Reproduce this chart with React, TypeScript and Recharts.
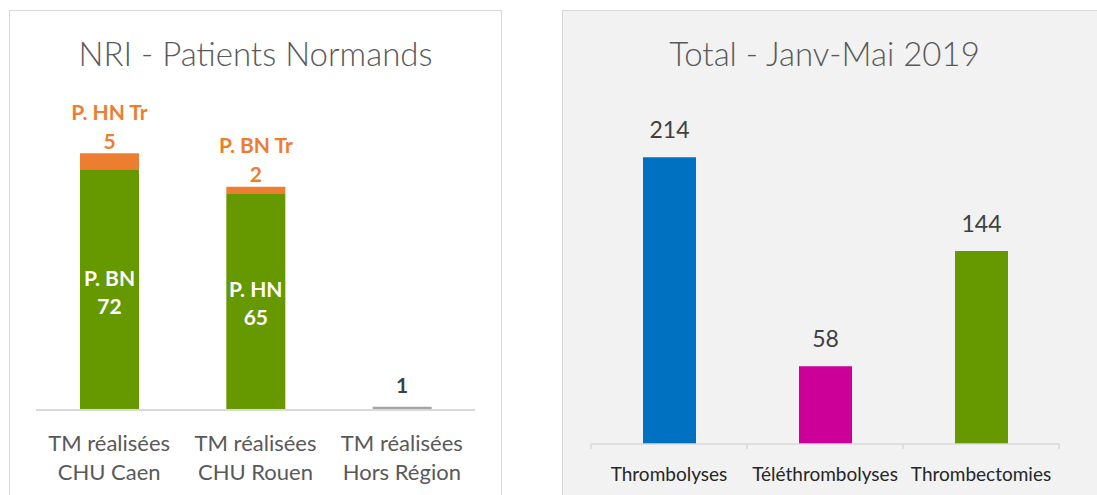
import React from "react";
import { BarChart, Bar, XAxis, YAxis, Cell, LabelList } from "recharts";

// left chart: NRI - Patients Normands
const nriCategories = ["TM réalisées\nCHU Caen", "TM réalisées\nCHU Rouen", "TM réalisées\nHors Région"];
const nriMain = [72, 65, 1];
const nriMainNames = ["P. BN", "P. HN", ""];
const nriMainColors = ["#669900", "#669900", "#A5A5A5"];
const nriTransfer = [5, 2, 0];
const nriTransferNames = ["P. HN Tr", "P. BN Tr", ""];

// right chart: Total - Janv-Mai 2019
const totalCategories = ["Thrombolyses", "Téléthrombolyses", "Thrombectomies"];
const totalValues = [214, 58, 144];
const totalColors = ["#0070C0", "#CC0099", "#669900"];

const FONT = "Lato, 'Open Sans', sans-serif";

const nriData = nriCategories.map((c, i) => ({
  name: c,
  main: nriMain[i],
  transfer: nriTransfer[i],
}));

const totalData = totalCategories.map((c, i) => ({
  name: c,
  value: totalValues[i],
}));

function NriTick(props: any) {
  const { x, y, payload } = props;
  const lines = String(payload.value).split("\n");
  return (
    <g>
      {lines.map((l, i) => (
        <text
          key={i}
          x={x}
          y={y + 32 + i * 29}
          textAnchor="middle"
          dominantBaseline="central"
          fontFamily={FONT}
          fontSize={22}
          fill="#595959"
        >
          {l}
        </text>
      ))}
    </g>
  );
}

const TOTAL_BAND = 156;

function TotalTick(props: any) {
  const { x, y, payload, index } = props;
  const left = x - TOTAL_BAND / 2;
  return (
    <g>
      <line x1={left} y1={y} x2={left} y2={y + 5} stroke="#D9D9D9" strokeWidth={1.5} />
      {index === totalCategories.length - 1 && (
        <line x1={left + TOTAL_BAND} y1={y} x2={left + TOTAL_BAND} y2={y + 5} stroke="#D9D9D9" strokeWidth={1.5} />
      )}
      <text
        x={x}
        y={y + 29}
        textAnchor="middle"
        dominantBaseline="central"
        fontFamily={FONT}
        fontSize={19}
        fill="#262626"
      >
        {payload.value}
      </text>
    </g>
  );
}

function MainLabel(props: any) {
  const { x, y, width, height, index, value } = props;
  const cx = x + width / 2;
  if (!nriMainNames[index]) {
    return (
      <text x={cx} y={y - 22} textAnchor="middle" dominantBaseline="central"
        fontFamily={FONT} fontWeight={700} fontSize={21} fill="#404040">
        {value}
      </text>
    );
  }
  const cy = y + height / 2;
  return (
    <g fontFamily={FONT} fontWeight={700} fontSize={21} fill="#FFFFFF" textAnchor="middle">
      <text x={cx} y={cy - 13} dominantBaseline="central">{nriMainNames[index]}</text>
      <text x={cx} y={cy + 15} dominantBaseline="central">{value}</text>
    </g>
  );
}

function TransferLabel(props: any) {
  const { x, y, width, index, value } = props;
  if (!value) return null;
  const cx = x + width / 2;
  return (
    <g fontFamily={FONT} fontWeight={700} fontSize={21} fill="#ED7D31" textAnchor="middle">
      <text x={cx} y={y - 42} dominantBaseline="central">{nriTransferNames[index]}</text>
      <text x={cx} y={y - 13} dominantBaseline="central">{value}</text>
    </g>
  );
}

function TotalLabel(props: any) {
  const { x, y, width, value } = props;
  return (
    <text x={x + width / 2} y={y - 28} textAnchor="middle" dominantBaseline="central"
      fontFamily={FONT} fontSize={23} fill="#404040">
      {value}
    </text>
  );
}

const titleStyle: React.CSSProperties = {
  position: "absolute",
  top: 22,
  textAlign: "center",
  fontFamily: FONT,
  fontWeight: 300,
  fontSize: 33,
  color: "#595959",
  lineHeight: "40px",
  whiteSpace: "nowrap",
};

export default function App() {
  return (
    <div style={{ position: "fixed", left: 0, top: 0, width: 1097, height: 495, background: "#fff", overflow: "hidden" }}>
      <div style={{ position: "absolute", left: 9, top: 10, width: 491, height: 500, border: "1px solid #D9D9D9", background: "#fff" }}>
        <div style={{ ...titleStyle, left: 0, width: 491 }}>NRI - Patients Normands</div>
        <div style={{ position: "absolute", left: 0, top: 0 }}>
          <BarChart width={491} height={484} data={nriData} margin={{ top: 99, right: 26, bottom: 25, left: 26 }}>
            <XAxis dataKey="name" axisLine={{ stroke: "#D9D9D9", strokeWidth: 2 }} tickLine={false}
              tickSize={0} tickMargin={0} height={60} interval={0} tick={<NriTick />} />
            <YAxis hide domain={[0, 90]} />
            <Bar dataKey="main" stackId="a" barSize={59} isAnimationActive={false}>
              {nriData.map((_, i) => (
                <Cell key={i} fill={nriMainColors[i]} />
              ))}
              <LabelList dataKey="main" content={<MainLabel />} />
            </Bar>
            <Bar dataKey="transfer" stackId="a" barSize={59} fill="#ED7D31" isAnimationActive={false}>
              <LabelList dataKey="transfer" content={<TransferLabel />} />
            </Bar>
          </BarChart>
        </div>
      </div>
      <div style={{ position: "absolute", left: 562, top: 10, width: 560, height: 500, border: "1px solid #D9D9D9", background: "#F2F2F2" }}>
        <div style={{ ...titleStyle, left: 0, width: 523 }}>Total - Janv-Mai 2019</div>
        <div style={{ position: "absolute", left: 0, top: 0 }}>
          <BarChart width={534} height={484} data={totalData} margin={{ top: 98, right: 38, bottom: 11, left: 28 }}>
            <XAxis dataKey="name" axisLine={{ stroke: "#D9D9D9", strokeWidth: 1.5 }} tickLine={false}
              tickSize={0} tickMargin={0} height={40} interval={0} tick={<TotalTick />} />
            <YAxis hide domain={[0, 250]} />
            <Bar dataKey="value" barSize={53} isAnimationActive={false}>
              {totalData.map((_, i) => (
                <Cell key={i} fill={totalColors[i]} />
              ))}
              <LabelList dataKey="value" content={<TotalLabel />} />
            </Bar>
          </BarChart>
        </div>
      </div>
    </div>
  );
}
